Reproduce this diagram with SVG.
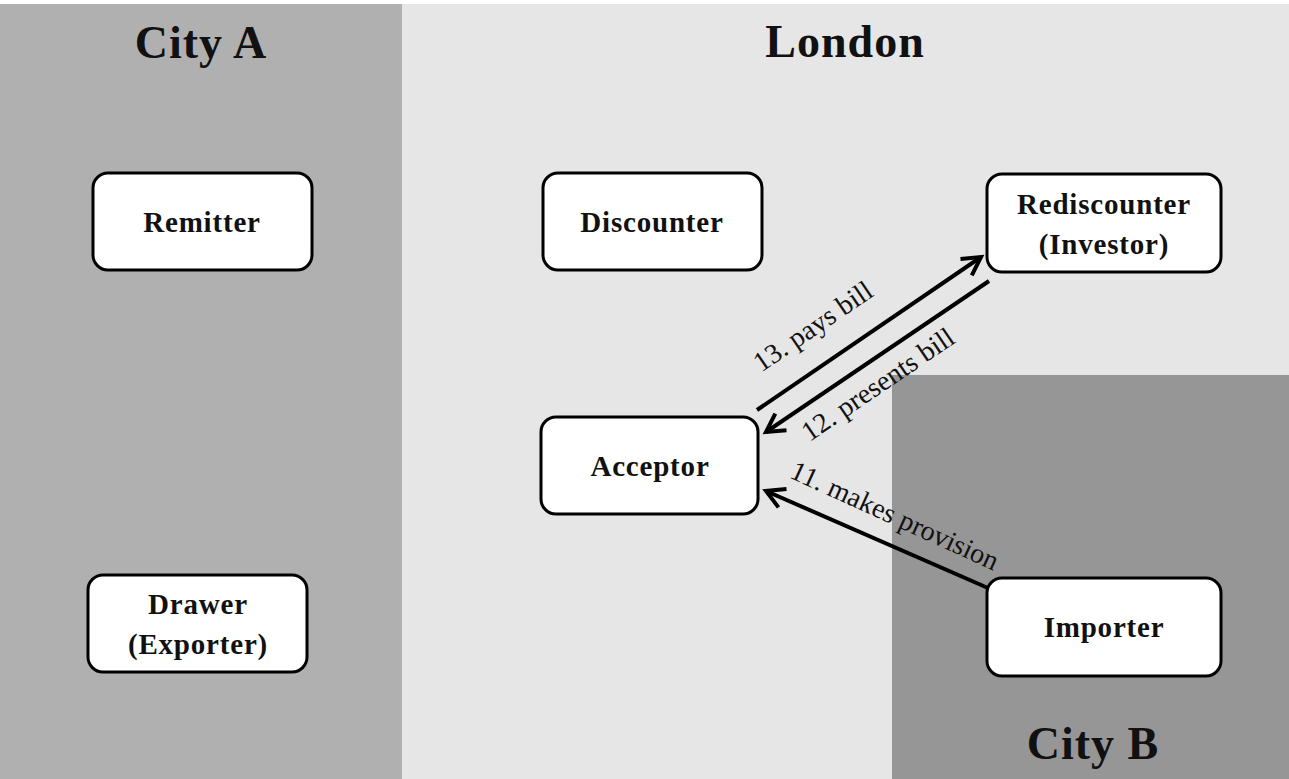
<svg xmlns="http://www.w3.org/2000/svg" width="1289" height="779" viewBox="0 0 1289 779">
<style>
.box{fill:#fff;stroke:#000;stroke-width:3}
.lbl{font-family:"Liberation Serif",serif;font-weight:bold;font-size:29px;letter-spacing:0.8px;text-anchor:middle;fill:#111}
.title{font-family:"Liberation Serif",serif;font-weight:bold;font-size:46px;letter-spacing:1px;text-anchor:middle;fill:#111}
.edge{stroke:#000;stroke-width:4;fill:none;marker-end:url(#ah)}
.elbl{font-family:"Liberation Serif",serif;font-size:28px;text-anchor:middle;fill:#111}
</style>
<defs>
<marker id="ah" viewBox="0 0 24 24" refX="22" refY="12" markerWidth="24" markerHeight="24" markerUnits="userSpaceOnUse" orient="auto" style="overflow:visible">
<path d="M4,2 L22,12 L4,22" fill="none" stroke="#000" stroke-width="4" stroke-linejoin="miter"/>
</marker>
</defs>
<rect x="0" y="0" width="1289" height="779" fill="#fff"/>
<g id="regions">
<rect x="0" y="4" width="402" height="775" fill="#b0b0b0"/>
<rect x="402" y="4" width="887" height="775" fill="#e6e6e6"/>
<rect x="892" y="375" width="397" height="404" fill="#969696"/>
<text class="title" x="201" y="58">City A</text>
<text class="title" x="845" y="57">London</text>
<text class="title" x="1093" y="759">City B</text>
</g>
<g id="connectors">
<line class="edge" x1="757" y1="410" x2="981" y2="257"/>
<line class="edge" x1="989" y1="281" x2="766" y2="432"/>
<line class="edge" x1="988" y1="588" x2="766" y2="491"/>
<text class="elbl" transform="translate(818,334) rotate(-34.3)">13. pays bill</text>
<text class="elbl" transform="translate(883,392) rotate(-34.3)">12. presents bill</text>
<text class="elbl" transform="translate(891,524) rotate(24.5)">11. makes provision</text>
</g>
<g id="remitter"><rect class="box" x="93" y="173" width="219" height="97" rx="15"/><text class="lbl" x="202" y="232">Remitter</text></g>
<g id="discounter"><rect class="box" x="543" y="173" width="219" height="97" rx="15"/><text class="lbl" x="652" y="232">Discounter</text></g>
<g id="rediscounter"><rect class="box" x="987" y="174" width="234" height="98" rx="15"/><text class="lbl" x="1104" y="214">Rediscounter</text><text class="lbl" x="1104" y="254">(Investor)</text></g>
<g id="acceptor"><rect class="box" x="541" y="417" width="217" height="97" rx="15"/><text class="lbl" x="650" y="476">Acceptor</text></g>
<g id="drawer"><rect class="box" x="88" y="575" width="219" height="97" rx="15"/><text class="lbl" x="198" y="614">Drawer</text><text class="lbl" x="198" y="654">(Exporter)</text></g>
<g id="importer"><rect class="box" x="987" y="578" width="234" height="98" rx="15"/><text class="lbl" x="1104" y="637">Importer</text></g>
</svg>
